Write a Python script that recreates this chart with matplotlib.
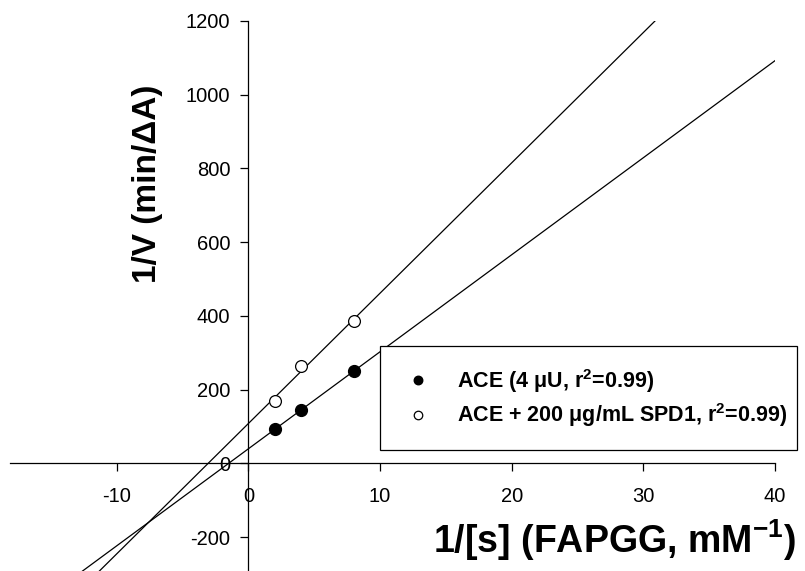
import numpy as np
import matplotlib.pyplot as plt

plt.rcParams['font.family'] = ['Liberation Sans', 'DejaVu Sans']
plt.rcParams['axes.unicode_minus'] = False
plt.rcParams['mathtext.fontset'] = 'custom'
plt.rcParams['mathtext.bf'] = 'Liberation Sans:bold'

# substrate 1/[s] (mM^-1) and 1/V (min/dA)
inv_s = [2, 4, 8]
ace = [92, 145, 250]
ace_spd1 = [169, 264, 386]

x_ticks = [-10, 0, 10, 20, 30, 40]
y_ticks = [-200, 0, 200, 400, 600, 800, 1000, 1200]

fig = plt.figure(figsize=(8.05, 5.71), dpi=100)
ax = fig.add_axes([10 / 805, -3 / 571, 765 / 805, 553 / 571])

# linear fits, drawn across the whole x range
x_line = np.array([-18.1, 40])
for y in (ace, ace_spd1):
    k, b = np.polyfit(inv_s, y, 1)
    ax.plot(x_line, k * x_line + b, color='black', lw=0.9, zorder=2)

ax.plot(inv_s, ace, 'o', color='black', ms=8.5, zorder=3,
        label=r'ACE (4 μU, r$^{\mathbf{2}}$=0.99)')
ax.plot(inv_s, ace_spd1, 'o', mfc='white', mec='black', mew=0.9, ms=8.5, zorder=3,
        label=r'ACE + 200 μg/mL SPD1, r$^{\mathbf{2}}$=0.99)')

ax.set_xlim(-18.1, 40)
ax.set_ylim(-300, 1200)
ax.spines['left'].set_position(('data', 0))
ax.spines['bottom'].set_position(('data', 0))
ax.spines['top'].set_visible(False)
ax.spines['right'].set_visible(False)
for s in ('left', 'bottom'):
    ax.spines[s].set_linewidth(0.9)
ax.set_xticks(x_ticks)
ax.set_yticks(y_ticks)
ax.tick_params(direction='out', length=6, width=0.9, labelsize=14.5)
ax.tick_params(axis='x', pad=11)
ax.tick_params(axis='y', pad=7)
ax.patch.set_visible(False)

fig.text(147 / 805, 1 - 184 / 571, '1/V (min/ΔA)', rotation=90, fontsize=24,
         fontweight='bold', ha='center', va='center')
fig.text(614 / 805, 1 - 540 / 571, r'1/[s] (FAPGG, mM$^{\mathbf{-1}}$)', fontsize=27,
         fontweight='bold', ha='center', va='center')

leg = ax.legend(loc='lower left', bbox_to_anchor=(380 / 805, 1 - 450 / 571, 417 / 805, 105 / 571),
                bbox_transform=fig.transFigure, mode='expand', borderaxespad=0,
                fancybox=False, edgecolor='black', framealpha=1,
                prop={'weight': 'bold', 'size': 15.5},
                markerscale=0.72, handletextpad=1.0, labelspacing=0.31, borderpad=0.97,
                handlelength=1.6)
leg.get_frame().set_linewidth(0.9)

fig.savefig('out.png', dpi=100)
